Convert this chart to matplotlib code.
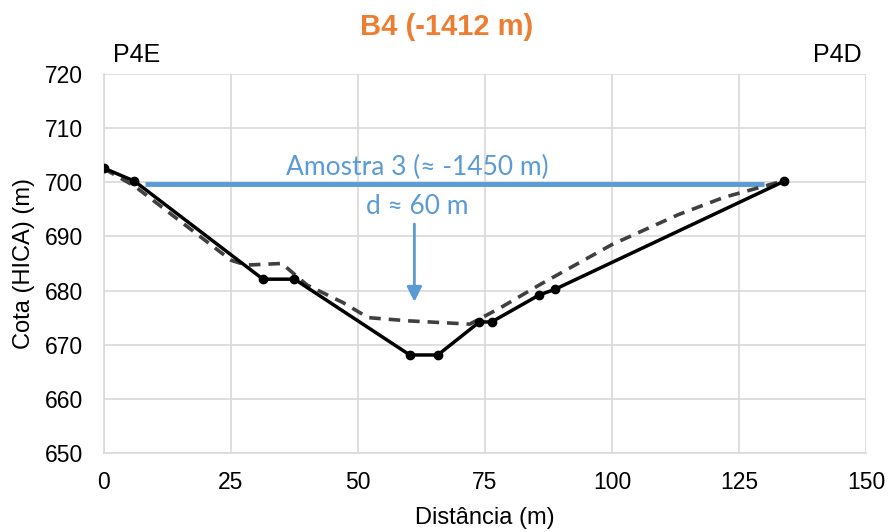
import matplotlib
matplotlib.use("Agg")
import matplotlib.pyplot as plt

plt.rcParams['font.family'] = ['Liberation Sans', 'DejaVu Sans']

# Data
solid_x = [0, 6, 31.3, 37.5, 60.2, 65.7, 73.9, 76.3, 85.7, 88.7, 133.9]
solid_y = [702.6, 700.2, 682.1, 682.1, 668.1, 668.1, 674.2, 674.2, 679.2, 680.2, 700.2]
dash_x = [0, 6, 25, 28, 35, 40, 47, 52, 60, 72, 78, 86, 100, 113, 122, 133.5]
dash_y = [702.5, 699.3, 685.6, 684.7, 685.0, 681.0, 677.8, 675.0, 674.4, 673.8, 676.8, 681.2, 688.5, 694.0, 697.2, 700.2]
sample_x = [8, 130]
sample_y = [699.6, 699.6]
arrow_x = 61.1
arrow_y_start = 692.8
arrow_y_end = 677.4
xticks = [0, 25, 50, 75, 100, 125, 150]
yticks = [650, 660, 670, 680, 690, 700, 710, 720]

fig = plt.figure(figsize=(8.91, 5.32), dpi=100)
ax = fig.add_axes([0.1167, 0.1485, 0.8553, 0.7125])

ax.set_xlim(0, 150)
ax.set_ylim(650, 720)
ax.set_xticks(xticks)
ax.set_yticks(yticks)
ax.grid(True, color='#D9D9D9', linewidth=1.2)
ax.set_axisbelow(True)
for s in ['top', 'right']:
    ax.spines[s].set_visible(False)
for s in ['left', 'bottom']:
    ax.spines[s].set_color('#D9D9D9')
    ax.spines[s].set_linewidth(1.2)
ax.tick_params(length=0, labelsize=16.5, colors='black')
ax.tick_params(axis='x', pad=13)
ax.tick_params(axis='y', pad=15)

ax.plot(sample_x, sample_y, color='#5B9BD5', linewidth=3.5, solid_capstyle='butt', zorder=2)
ax.plot(dash_x, dash_y, color='#404040', linewidth=2.6, linestyle=(0, (3.2, 2.2)), zorder=3)
ax.plot(solid_x, solid_y, color='black', linewidth=2.5, marker='o', markersize=6, zorder=4)

ax.annotate('', xy=(arrow_x, arrow_y_end), xytext=(arrow_x, arrow_y_start),
            arrowprops=dict(arrowstyle='-|>,head_length=0.9,head_width=0.45',
                            color='#5B9BD5', lw=2), zorder=2)

ax.text(61.6, 702.8, 'Amostra 3 (≈ -1450 m)', color='#5B9BD5', fontsize=19,
        ha='center', va='center', family=['Lato', 'DejaVu Sans'])
ax.text(61.6, 695.6, 'd ≈ 60 m', color='#5B9BD5', fontsize=19,
        ha='center', va='center', family=['Lato', 'DejaVu Sans'])

ax.set_xlabel('Distância (m)', fontsize=17, labelpad=9)
ax.set_ylabel('Cota (HICA) (m)', fontsize=17, labelpad=7)

fig.text(446.5 / 891, 1 - 27 / 532, 'B4 (-1412 m)', color='#ED7D31', fontsize=21,
         fontweight='bold', ha='center', va='center')
ax.text(1.8, 721.2, 'P4E', fontsize=18, ha='left', va='bottom')
ax.text(149.2, 721.2, 'P4D', fontsize=18, ha='right', va='bottom')

fig.savefig('out.png', dpi=100)
